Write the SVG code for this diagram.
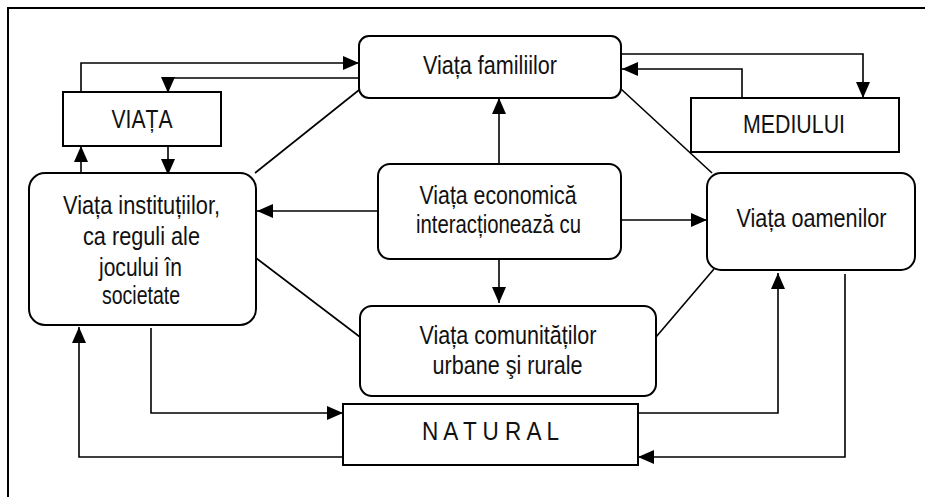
<svg xmlns="http://www.w3.org/2000/svg" width="925" height="497" viewBox="0 0 925 497">
<style>
.box{fill:#fff;stroke:#000;stroke-width:2}
.c{fill:none;stroke:#000;stroke-width:1.6}
.a{marker-end:url(#ah)}
text{font-family:"Liberation Sans",Arial,sans-serif;font-size:25.5px;fill:#111;text-anchor:middle}
</style>
<defs>
<marker id="ah" markerUnits="userSpaceOnUse" markerWidth="16" markerHeight="14" refX="16" refY="7" orient="auto">
<path d="M0,0 L16,7 L0,14 z" fill="#000"/>
</marker>
</defs>
<rect x="0" y="0" width="925" height="497" fill="#fff"/>
<g id="frame"><path d="M8,497 V8 H925" fill="none" stroke="#000" stroke-width="2"/></g>
<g id="connectors">
<path class="c a" d="M81,92 V63 H359"/>
<path class="c a" d="M359,78 H168 V93"/>
<path class="c a" d="M168,146 V175"/>
<path class="c a" d="M81,173 V146"/>
<path class="c" d="M359,90 L255,173"/>
<path class="c a" d="M378,211 H257"/>
<path class="c a" d="M499,164 V98"/>
<path class="c a" d="M621,220 H707"/>
<path class="c a" d="M499,259 V303"/>
<path class="c a" d="M621,54 H863 V98"/>
<path class="c a" d="M742,98 V69 H622"/>
<path class="c" d="M621,89 L712,173"/>
<path class="c" d="M256,258 L360,337"/>
<path class="c" d="M714,269 L656,337"/>
<path class="c a" d="M151,328 V413 H343"/>
<path class="c a" d="M343,457 H79 V327"/>
<path class="c a" d="M638,413 H778 V273"/>
<path class="c a" d="M845,274 V457 H638"/>
</g>
<g id="familiilor"><rect class="box" x="359" y="36" width="262" height="62" rx="10"/><text x="490" y="74" textLength="134" lengthAdjust="spacingAndGlyphs">Viața familiilor</text></g>
<g id="viata"><rect class="box" x="63" y="92" width="158" height="54"/><text x="142" y="128" textLength="61" lengthAdjust="spacingAndGlyphs">VIAȚA</text></g>
<g id="institutiilor"><rect class="box" x="29" y="173" width="227" height="152" rx="16"/>
<text x="141.5" y="214" textLength="157" lengthAdjust="spacingAndGlyphs">Viața instituțiilor,</text>
<text x="141.5" y="245" textLength="117" lengthAdjust="spacingAndGlyphs">ca reguli ale</text>
<text x="140.5" y="275.5" textLength="83" lengthAdjust="spacingAndGlyphs">jocului în</text>
<text x="141" y="304" textLength="78" lengthAdjust="spacingAndGlyphs">societate</text></g>
<g id="economica"><rect class="box" x="378" y="164" width="243" height="95" rx="12"/>
<text x="498" y="204" textLength="157" lengthAdjust="spacingAndGlyphs">Viața economică</text>
<text x="498.5" y="233" textLength="165" lengthAdjust="spacingAndGlyphs">interacționează cu</text></g>
<g id="oamenilor"><rect class="box" x="707" y="173" width="208" height="97" rx="14"/><text x="811.5" y="227" textLength="150" lengthAdjust="spacingAndGlyphs">Viața oamenilor</text></g>
<g id="mediului"><rect class="box" x="691" y="98" width="208" height="54"/><text x="794" y="133" textLength="102" lengthAdjust="spacingAndGlyphs">MEDIULUI</text></g>
<g id="comunitatilor"><rect class="box" x="360" y="306" width="296" height="90" rx="12"/>
<text x="508" y="344" textLength="177" lengthAdjust="spacingAndGlyphs">Viața comunităților</text>
<text x="507.5" y="374" textLength="150" lengthAdjust="spacingAndGlyphs">urbane şi rurale</text></g>
<g id="natural"><rect class="box" x="343" y="404" width="295" height="61"/><text x="490.5" y="440" textLength="137" lengthAdjust="spacingAndGlyphs">N A T U R A L</text></g>
</svg>
